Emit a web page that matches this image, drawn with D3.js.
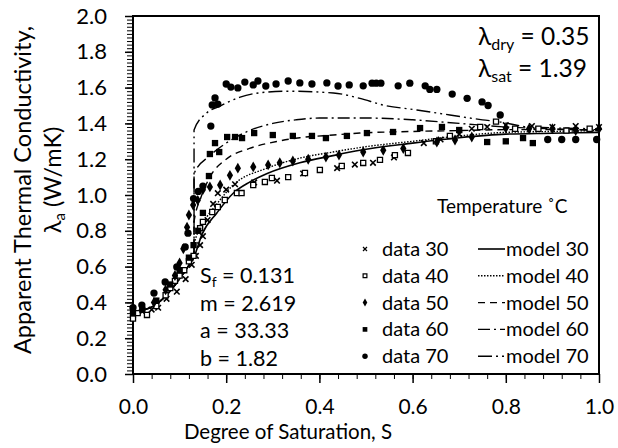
<!DOCTYPE html>
<html lang="en">
<head>
<meta charset="UTF-8">
<title>Apparent thermal conductivity</title>
<style>
  body { margin: 0; background: #fff; }
  svg { display: block; }
  text { font-family: Lato, "Open Sans", sans-serif; fill: #000; }
  .axis path, .axis line { stroke: #000; }
</style>
</head>
<body>
<svg id="chart"></svg>
<script src="https://cdnjs.cloudflare.com/ajax/libs/d3/7.8.5/d3.min.js"></script>
<script>

var width = 618,
    height = 448,
    plot = { left: 133, right: 599, top: 16, bottom: 374 };

// measured points [S, lambda]
var data30 = [[0.00,0.33],[0.02,0.35],[0.04,0.36],[0.054,0.37],[0.072,0.42],[0.094,0.46],[0.113,0.53],
  [0.126,0.61],[0.135,0.66],[0.144,0.72],[0.15,0.77],[0.16,0.86],[0.172,0.95],[0.182,1.01],[0.20,1.03],
  [0.219,1.06],[0.26,1.07],[0.309,1.08],[0.365,1.12],[0.438,1.15],[0.476,1.17],[0.515,1.18],[0.56,1.21],
  [0.624,1.29],[0.66,1.31],[0.70,1.34],[0.727,1.37],[0.76,1.38],[0.80,1.39],[0.856,1.385],[0.90,1.38],
  [0.95,1.385],[1.00,1.38]];
var data40 = [[0.00,0.31],[0.01,0.34],[0.03,0.33],[0.05,0.38],[0.07,0.44],[0.08,0.48],[0.09,0.52],
  [0.10,0.55],[0.11,0.58],[0.12,0.63],[0.13,0.66],[0.144,0.815],[0.15,0.85],[0.17,0.905],[0.182,0.933],
  [0.197,0.972],[0.223,1.011],[0.233,1.011],[0.258,1.056],[0.283,1.073],[0.298,1.095],[0.333,1.10],
  [0.369,1.123],[0.401,1.14],[0.448,1.162],[0.494,1.179],[0.53,1.196],[0.562,1.223],[0.59,1.235],
  [0.65,1.30],[0.68,1.33],[0.745,1.38],[0.779,1.41],[0.82,1.37],[0.87,1.37],[0.93,1.36],[0.98,1.37]];
var data50 = [[0.00,0.36],[0.02,0.37],[0.045,0.40],[0.07,0.47],[0.09,0.55],[0.10,0.62],[0.108,0.70],
  [0.116,0.82],[0.12,0.888],[0.129,0.944],[0.139,0.97],[0.15,1.03],[0.165,1.045],[0.187,1.056],
  [0.208,1.11],[0.225,1.15],[0.258,1.157],[0.29,1.168],[0.315,1.18],[0.343,1.19],[0.376,1.20],
  [0.414,1.212],[0.442,1.223],[0.494,1.24],[0.537,1.25],[0.58,1.26],[0.652,1.296],[0.691,1.307],
  [0.727,1.324],[0.80,1.374],[0.85,1.37],[0.90,1.37],[0.95,1.36],[1.00,1.37]];
var data60 = [[0.00,0.34],[0.02,0.36],[0.05,0.41],[0.08,0.50],[0.10,0.58],[0.12,0.65],[0.13,0.72],
  [0.14,0.80],[0.15,0.90],[0.163,1.106],[0.165,1.229],[0.176,1.29],[0.185,1.24],[0.202,1.324],
  [0.219,1.324],[0.234,1.318],[0.26,1.346],[0.30,1.335],[0.343,1.33],[0.384,1.33],[0.414,1.318],
  [0.459,1.33],[0.502,1.346],[0.558,1.352],[0.616,1.374],[0.663,1.38],[0.70,1.363],[0.76,1.296],
  [0.80,1.30],[0.837,1.318],[0.858,1.29]];
var data70 = [[0.00,0.37],[0.019,0.385],[0.045,0.452],[0.069,0.514],[0.094,0.598],[0.112,0.71],
  [0.118,0.787],[0.13,0.98],[0.14,1.02],[0.150,1.05],[0.167,1.385],[0.170,1.503],[0.182,1.508],
  [0.176,1.542],[0.20,1.62],[0.21,1.603],[0.225,1.598],[0.24,1.631],[0.258,1.615],[0.268,1.637],
  [0.285,1.609],[0.307,1.62],[0.333,1.637],[0.358,1.626],[0.384,1.62],[0.416,1.626],[0.44,1.609],
  [0.464,1.615],[0.494,1.61],[0.513,1.625],[0.522,1.625],[0.532,1.625],[0.569,1.61],[0.594,1.625],
  [0.627,1.61],[0.637,1.59],[0.652,1.59],[0.685,1.564],[0.717,1.54],[0.749,1.52],[0.762,1.50],
  [0.788,1.447],[0.89,1.31],[0.92,1.31],[0.95,1.31],[0.995,1.31]];

var model30 = [[0,0.35],[0.036,0.369],[0.064,0.42],[0.094,0.51],[0.118,0.60],[0.131,0.654],[0.148,0.78],
  [0.18,0.90],[0.215,1.01],[0.251,1.073],[0.288,1.12],[0.358,1.18],[0.429,1.22],[0.487,1.25],
  [0.6,1.29],[0.7,1.32],[0.8,1.34],[0.9,1.345],[1.0,1.35]];
var model40 = [[0,0.35],[0.036,0.369],[0.064,0.42],[0.094,0.51],[0.118,0.60],[0.131,0.654],[0.131,0.72],
  [0.15,0.84],[0.18,0.95],[0.215,1.056],[0.288,1.15],[0.358,1.206],[0.429,1.24],[0.5,1.27],
  [0.6,1.30],[0.7,1.33],[0.8,1.35],[0.9,1.355],[1.0,1.36]];
var model50 = [[0,0.35],[0.036,0.369],[0.064,0.42],[0.094,0.51],[0.118,0.60],[0.131,0.654],[0.131,0.85],
  [0.145,0.98],[0.165,1.10],[0.20,1.20],[0.25,1.26],[0.31,1.30],[0.358,1.32],[0.43,1.335],
  [0.487,1.346],[0.6,1.355],[0.7,1.36],[0.8,1.365],[0.9,1.365],[1.0,1.365]];
var model60 = [[0,0.35],[0.036,0.369],[0.064,0.42],[0.094,0.51],[0.118,0.60],[0.131,0.654],[0.131,1.12],
  [0.165,1.22],[0.20,1.29],[0.25,1.36],[0.30,1.40],[0.35,1.42],[0.40,1.43],[0.5,1.43],[0.6,1.42],
  [0.7,1.40],[0.8,1.38],[0.9,1.37],[1.0,1.36]];
var model70 = [[0,0.35],[0.036,0.369],[0.064,0.42],[0.094,0.51],[0.118,0.60],[0.131,0.654],[0.131,1.363],
  [0.158,1.458],[0.187,1.497],[0.23,1.547],[0.287,1.575],[0.33,1.58],[0.43,1.57],[0.487,1.54],
  [0.536,1.503],[0.609,1.475],[0.68,1.447],[0.75,1.42],[0.783,1.41],[0.85,1.38],[1.0,1.37]];

var xTicks = [0, 0.2, 0.4, 0.6, 0.8, 1.0];
var yTicks = [0, 0.2, 0.4, 0.6, 0.8, 1.0, 1.2, 1.4, 1.6, 1.8, 2.0];
var legendNames = ["30", "40", "50", "60", "70"];
var fitParams = [["S", "f", " = 0.131"], ["m", "", " = 2.619"], ["a", "", " = 33.33"], ["b", "", " = 1.82"]];

var svg = d3.select("#chart").attr("width", width).attr("height", height);

var x = d3.scaleLinear().domain([0, 1]).range([plot.left, plot.right]);
var y = d3.scaleLinear().domain([0, 2]).range([plot.bottom, plot.top]);

// minor ticks
svg.append("g").attr("class", "axis")
  .attr("transform", "translate(0," + plot.bottom + ")")
  .call(d3.axisBottom(x).tickValues(d3.range(0, 1.0001, 0.04)).tickSize(5).tickFormat(""))
  .call(g => g.select(".domain").remove());
svg.append("g").attr("class", "axis")
  .attr("transform", "translate(" + plot.left + ",0)")
  .call(d3.axisLeft(y).tickValues(d3.range(0, 2.0001, 0.02)).tickSize(6).tickFormat(""))
  .call(g => g.select(".domain").remove());

// major ticks + labels
var xAxis = svg.append("g").attr("class", "axis")
  .attr("transform", "translate(0," + plot.bottom + ")")
  .call(d3.axisBottom(x).tickValues(xTicks).tickSize(9).tickPadding(16).tickFormat(d3.format(".1f")));
xAxis.select(".domain").remove();
xAxis.selectAll("line").attr("stroke-width", 1.5);
xAxis.selectAll("text").attr("font-size", 21);

var yAxis = svg.append("g").attr("class", "axis")
  .attr("transform", "translate(" + plot.left + ",0)")
  .call(d3.axisLeft(y).tickValues(yTicks).tickSize(8).tickPadding(18).tickFormat(d3.format(".1f")));
yAxis.select(".domain").remove();
yAxis.selectAll("line").attr("stroke-width", 1.5);
yAxis.selectAll("text").attr("font-size", 22);

// frame
svg.append("rect")
  .attr("x", plot.left).attr("y", plot.top)
  .attr("width", plot.right - plot.left).attr("height", plot.bottom - plot.top)
  .attr("fill", "none").attr("stroke", "#000").attr("stroke-width", 2);

// model curves
var line = d3.line().x(d => x(d[0])).y(d => y(d[1])).curve(d3.curveMonotoneX);
var models = [
  { data: model30, dash: null, w: 1.6 },
  { data: model40, dash: "1.5,1.5", w: 1.4 },
  { data: model50, dash: "7,5", w: 1.4 },
  { data: model60, dash: "12,4,2,4", w: 1.4 },
  { data: model70, dash: "14,4,2,4,2,4", w: 1.4 }
];
svg.append("g").selectAll("path")
  .data(models).enter().append("path")
  .attr("d", d => line(d.data))
  .attr("fill", "none").attr("stroke", "#000")
  .attr("stroke-width", d => d.w)
  .attr("stroke-dasharray", d => d.dash);

// markers
var markers = [
  { data: data30, type: d3.symbolTimes || d3.symbolCross, size: 22, fill: "none", stroke: "#000", sw: 1.6, rot: d3.symbolTimes ? 0 : 45 },
  { data: data40, type: d3.symbolSquare, size: 26, fill: "#fff", stroke: "#000", sw: 1.3, rot: 0 },
  { data: data50, type: d3.symbolDiamond, size: 34, fill: "#000", stroke: "none", sw: 0, rot: 0 },
  { data: data60, type: d3.symbolSquare, size: 40, fill: "#000", stroke: "none", sw: 0, rot: 0 },
  { data: data70, type: d3.symbolCircle, size: 42, fill: "#000", stroke: "none", sw: 0, rot: 0 }
];
markers.forEach(function(m) {
  svg.append("g").selectAll("path")
    .data(m.data).enter().append("path")
    .attr("d", d3.symbol().type(m.type).size(m.size))
    .attr("transform", d => "translate(" + x(d[0]) + "," + y(d[1]) + ") rotate(" + m.rot + ")")
    .attr("fill", m.fill).attr("stroke", m.stroke).attr("stroke-width", m.sw);
});

// legend
var legend = svg.append("g");
legend.append("text").attr("x", 437).attr("y", 213).attr("font-size", 19).text("Temperature \u02daC");
legendNames.forEach(function(name, i) {
  var yy = 256 + i * 26.8;
  var m = markers[i];
  legend.append("path")
    .attr("d", d3.symbol().type(m.type).size(m.size * 0.55))
    .attr("transform", "translate(365," + (yy - 7) + ") rotate(" + m.rot + ")")
    .attr("fill", m.fill).attr("stroke", m.stroke).attr("stroke-width", m.sw ? 1.2 : 0);
  legend.append("text").attr("x", 382).attr("y", yy).attr("font-size", 20).text("data " + name);
  legend.append("line")
    .attr("x1", 478).attr("x2", 505).attr("y1", yy - 7).attr("y2", yy - 7)
    .attr("stroke", "#000").attr("stroke-width", models[i].w)
    .attr("stroke-dasharray", models[i].dash);
  legend.append("text").attr("x", 506).attr("y", yy).attr("font-size", 20).text("model " + name);
});

// fit parameters
fitParams.forEach(function(p, i) {
  var t = svg.append("text").attr("x", 200).attr("y", 283 + i * 27.7).attr("font-size", 21.5);
  t.append("tspan").text(p[0]);
  if (p[1]) t.append("tspan").attr("font-size", 14).attr("dy", 4).text(p[1]);
  t.append("tspan").attr("dy", p[1] ? -4 : 0).text(p[2]);
});

// lambda values
[["dry", " = 0.35", 45], ["sat", " = 1.39", 77]].forEach(function(p) {
  var t = svg.append("text").attr("x", 478).attr("y", p[2]).attr("font-size", 24.5);
  t.append("tspan").text("\u03bb");
  t.append("tspan").attr("font-size", 16).attr("dy", 5).text(p[0]);
  t.append("tspan").attr("dy", -5).text(p[1]);
});

// axis titles
svg.append("text").attr("x", 288).attr("y", 439).attr("text-anchor", "middle")
  .attr("font-size", 20.5).text("Degree of Saturation, S");

// y title: two lines, rotated; second line centred by measuring it
var yt = svg.append("g").attr("transform", "translate(31,190) rotate(-90)");
yt.append("text").attr("text-anchor", "middle").attr("font-size", 23.5).text("Apparent Thermal Conductivity,");
var yt2 = yt.append("text").attr("y", 30).attr("font-size", 23.5);
yt2.append("tspan").text("\u03bb");
yt2.append("tspan").attr("font-size", 15).attr("dy", 4).text("a");
yt2.append("tspan").attr("dy", -4).text(" (W/mK)");
var len2 = yt2.node().getComputedTextLength();
yt2.attr("x", 10 - len2 / 2);

</script>
</body>
</html>
